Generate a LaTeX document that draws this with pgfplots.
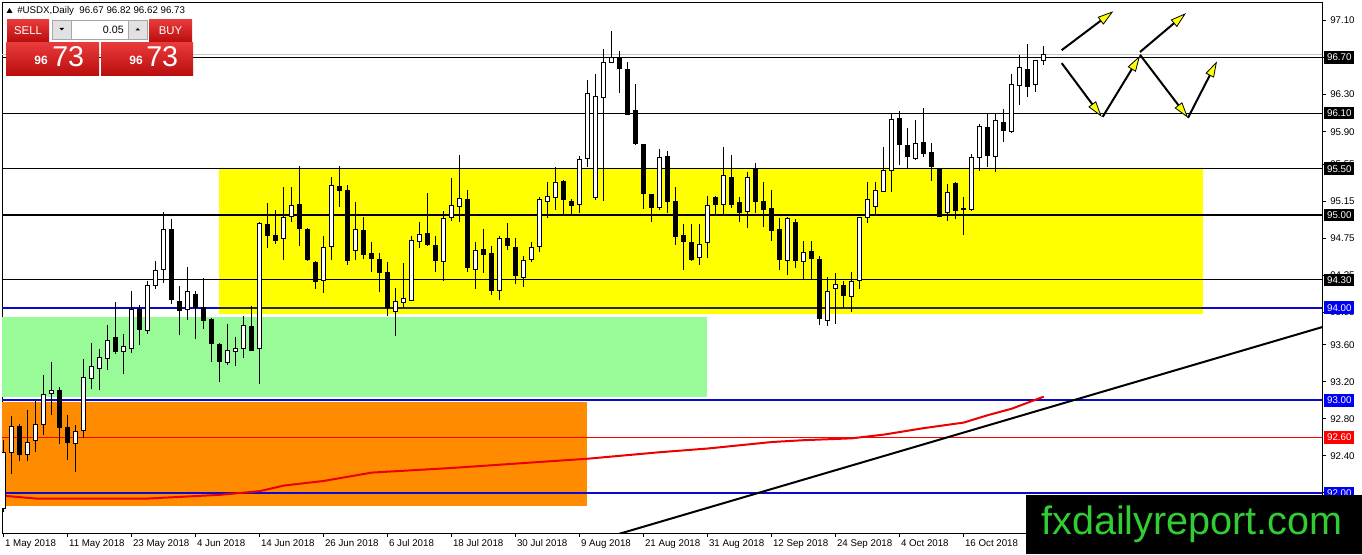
\documentclass[border=0pt]{standalone}
\usepackage{fontspec}
\setmainfont{Liberation Sans}
\usepackage{pgfplots}
\pgfplotsset{compat=1.18}
\usepackage{pgfplotstable}
\usetikzlibrary{arrows.meta}

\definecolor{lvlblue}{RGB}{10,10,205}
\definecolor{boxblue}{RGB}{0,0,245}
\definecolor{zoneyellow}{RGB}{255,255,0}
\definecolor{zonegreen}{RGB}{152,251,152}
\definecolor{zoneorange}{RGB}{255,140,0}
\definecolor{marred}{RGB}{235,0,0}
\definecolor{lvlred}{RGB}{255,0,0}
\definecolor{btntop}{RGB}{232,58,58}
\definecolor{btnbot}{RGB}{185,12,12}
\definecolor{wmgreen}{RGB}{50,205,50}
\definecolor{ctlgray}{RGB}{225,225,225}

\newcommand\lab{\fontsize{7.3}{8}\selectfont}

\pgfplotstableread{
i O H L C
0 91.83 92.57 91.80 92.44
1 92.44 92.83 92.21 92.72
2 92.72 92.75 92.34 92.42
3 92.42 92.90 92.34 92.55
4 92.57 92.99 92.44 92.74
5 92.74 93.27 92.63 93.06
6 93.07 93.41 92.84 93.11
7 93.11 93.15 92.53 92.71
8 92.71 92.84 92.36 92.55
9 92.53 92.74 92.23 92.66
10 92.67 93.45 92.59 93.25
11 93.24 93.62 93.12 93.36
12 93.35 93.55 93.11 93.46
13 93.45 93.81 93.33 93.65
14 93.68 94.06 93.50 93.53
15 93.53 93.72 93.28 93.58
16 93.56 94.18 93.51 93.98
17 93.98 94.03 93.60 93.77
18 93.75 94.29 93.72 94.24
19 94.24 94.50 94.20 94.40
20 94.41 95.03 94.27 94.84
21 94.85 94.96 94.04 94.09
22 94.07 94.24 93.71 93.97
23 93.98 94.44 93.87 94.17
24 94.14 94.18 93.66 94.00
25 94.00 94.32 93.77 93.86
26 93.87 93.89 93.41 93.61
27 93.60 93.62 93.20 93.42
28 93.41 93.82 93.38 93.54
29 93.53 93.68 93.37 93.56
30 93.56 93.91 93.46 93.81
31 93.80 94.02 93.53 93.54
32 93.56 94.93 93.18 94.91
33 94.90 95.13 94.64 94.78
34 94.78 95.05 94.69 94.73
35 94.75 95.30 94.52 94.98
36 94.98 95.30 94.92 95.10
37 95.12 95.53 94.67 94.86
38 94.85 94.86 94.50 94.52
39 94.49 94.50 94.20 94.28
40 94.29 94.77 94.16 94.65
41 94.66 95.41 94.52 95.32
42 95.31 95.53 95.09 95.26
43 95.27 95.32 94.46 94.51
44 94.62 95.14 94.52 94.84
45 94.83 94.98 94.53 94.57
46 94.59 94.71 94.38 94.53
47 94.52 94.59 94.17 94.38
48 94.38 94.49 93.91 94.00
49 93.96 94.21 93.70 94.07
50 94.06 94.48 94.00 94.10
51 94.08 94.77 94.07 94.72
52 94.71 94.93 94.64 94.79
53 94.80 95.24 94.67 94.68
54 94.67 94.77 94.39 94.51
55 94.50 95.05 94.29 94.96
56 94.97 95.40 94.94 95.10
57 95.09 95.65 94.93 95.18
58 95.17 95.27 94.39 94.44
59 94.41 94.71 94.20 94.62
60 94.63 94.85 94.38 94.57
61 94.58 94.67 94.14 94.19
62 94.19 94.78 94.08 94.75
63 94.75 94.91 94.62 94.67
64 94.65 94.75 94.26 94.35
65 94.33 94.56 94.22 94.51
66 94.52 94.71 94.49 94.65
67 94.66 95.20 94.60 95.17
68 95.15 95.36 94.97 95.20
69 95.19 95.52 95.05 95.35
70 95.36 95.38 95.01 95.17
71 95.15 95.17 95.01 95.10
72 95.11 95.64 95.02 95.60
73 95.61 96.46 95.52 96.31
74 95.19 96.52 95.16 96.28
75 96.27 96.79 95.15 96.65
76 96.65 96.99 96.64 96.70
77 96.69 96.77 96.32 96.58
78 96.57 96.65 96.09 96.09
79 96.13 96.41 95.76 95.77
80 95.76 95.77 95.06 95.23
81 95.22 95.22 94.93 95.08
82 95.08 95.71 95.06 95.62
83 95.63 95.69 95.02 95.15
84 95.15 95.30 94.68 94.77
85 94.78 94.90 94.41 94.71
86 94.71 94.90 94.51 94.52
87 94.54 94.90 94.46 94.68
88 94.70 95.21 94.54 95.10
89 95.19 95.21 95.01 95.12
90 95.12 95.74 95.01 95.43
91 95.41 95.65 95.08 95.12
92 95.14 95.20 94.93 95.03
93 95.04 95.46 94.86 95.41
94 95.49 95.56 95.02 95.15
95 95.15 95.36 94.87 95.06
96 95.07 95.27 94.72 94.83
97 94.84 94.97 94.41 94.52
98 94.51 94.98 94.35 94.96
99 94.92 94.96 94.43 94.51
100 94.50 94.72 94.31 94.60
101 94.61 94.72 94.31 94.53
102 94.52 94.56 93.81 93.88
103 93.86 94.33 93.80 94.18
104 94.21 94.37 93.82 94.25
105 94.24 94.29 94.00 94.13
106 94.12 94.39 93.95 94.28
107 94.29 94.98 94.20 94.97
108 94.98 95.36 94.92 95.17
109 95.09 95.36 95.01 95.27
110 95.26 95.74 95.25 95.48
111 95.48 96.10 95.25 96.03
112 96.04 96.12 95.54 95.76
113 95.75 95.94 95.51 95.63
114 95.61 96.03 95.59 95.77
115 95.78 96.16 95.63 95.67
116 95.68 95.78 95.37 95.52
117 95.50 95.51 94.98 94.99
118 95.03 95.34 94.94 95.24
119 95.34 95.36 94.96 95.05
120 95.06 95.20 94.79 95.07
121 95.06 95.66 95.05 95.62
122 95.62 95.98 95.48 95.96
123 95.95 96.09 95.52 95.64
124 95.63 96.09 95.46 96.02
125 96.00 96.15 95.79 95.91
126 95.90 96.52 95.89 96.41
127 96.40 96.73 96.19 96.59
128 96.57 96.85 96.27 96.39
129 96.41 96.67 96.33 96.67
130 96.67 96.82 96.62 96.73
}\candles

\pgfplotstableread{
i v
0 91.97
4 91.94
18 91.94
27 91.98
32 92.02
35 92.08
40 92.13
46 92.22
56 92.27
73 92.37
82 92.44
88 92.48
96 92.55
100 92.57
106 92.59
110 92.63
115 92.70
120 92.76
123 92.84
126 92.91
130 93.04
}\mav

\tikzset{yarrow/.style={black, line width=1.5pt, -{Triangle[length=12pt,width=7pt,fill=zoneyellow,line width=0.6pt]}}}
\tikzset{lbox/.style={anchor=west, xshift=1.5pt, minimum width=22.5pt, minimum height=9.4pt, inner sep=0pt, text=white, font=\lab}}

\begin{document}
\begin{tikzpicture}[x=0.75pt,y=0.75pt]
\path[use as bounding box] (0,0) rectangle (1362,554);
\fill[white] (0,0) rectangle (1362,554);
\begin{axis}[
  at={(1.5pt,15.75pt)}, anchor=south west, scale only axis,
  width=990pt, height=397.5pt,
  xmin=-0.225, xmax=164.78, ymin=91.568, ymax=97.289,
  clip mode=individual,
  axis line style={line width=0.75pt, black},
  tick align=outside, major tick length=3pt,
  tick style={black, line width=0.75pt},
  xtick pos=left, ytick pos=right, yticklabel pos=right,
  xtick={0,8,...,120},
  xticklabels={1 May 2018,11 May 2018,23 May 2018,4 Jun 2018,14 Jun 2018,26 Jun 2018,6 Jul 2018,18 Jul 2018,30 Jul 2018,9 Aug 2018,21 Aug 2018,31 Aug 2018,12 Sep 2018,24 Sep 2018,4 Oct 2018,16 Oct 2018},
  xticklabel style={anchor=north west, inner sep=0pt, font=\lab, xshift=0.75pt, yshift=-1.5pt},
  ytick={97.10,96.70,96.30,95.90,95.55,95.15,94.75,94.35,93.95,93.60,93.20,92.80,92.40,92.00},
  yticklabel={\pgfmathprintnumber[fixed,fixed zerofill,precision=2]{\tick}},
  yticklabel style={anchor=west, inner sep=0pt, font=\lab, xshift=3pt},
  /pgf/number format/assume math mode=true,
]
% zones
\addplot[draw=none, fill=zoneorange] coordinates {(-1,91.86) (72.9,91.86) (72.9,92.98) (-1,92.98)} --cycle;
\addplot[draw=none, fill=zonegreen] coordinates {(-1,93.04) (87.86,93.04) (87.86,93.90) (-1,93.90)} --cycle;
\addplot[draw=none, fill=zoneyellow] coordinates {(26.9,93.93) (149.86,93.93) (149.86,95.50) (26.9,95.50)} --cycle;
% level lines
\addplot[gray!45, line width=0.75pt] coordinates {(-2,96.73) (170,96.73)};
\addplot[black, line width=0.75pt] coordinates {(-2,96.70) (170,96.70)};
\addplot[black, line width=0.75pt] coordinates {(-2,96.10) (170,96.10)};
\addplot[black, line width=0.75pt] coordinates {(-2,95.50) (170,95.50)};
\addplot[black, line width=1.5pt] coordinates {(-2,95.00) (170,95.00)};
\addplot[black, line width=0.75pt] coordinates {(-2,94.30) (170,94.30)};
\addplot[lvlblue, line width=1.5pt] coordinates {(-2,94.00) (170,94.00)};
\addplot[black!85, line width=1.5pt] coordinates {(26.9,94.00) (149.86,94.00)};
\addplot[lvlblue, line width=1.5pt] coordinates {(-2,93.00) (170,93.00)};
\addplot[draw=lvlred, line width=1pt] coordinates {(-2,92.60) (170,92.60)};
\addplot[lvlblue, line width=1.5pt] coordinates {(-2,92.00) (170,92.00)};
% trend line and moving average
\addplot[black, line width=1.5pt] coordinates {(70,91.383) (166,93.821)};
\addplot[marred, line width=1.5pt] table[x=i, y=v] {\mav};
% candles: wicks
\addplot[draw=none, mark=none, error bars/.cd, y dir=both, y explicit, error mark=none,
  error bar style={draw=black, line width=0.75pt}]
  table[x=i, y expr={(\thisrow{H}+\thisrow{L})/2}, y error expr={(\thisrow{H}-\thisrow{L})/2}] {\candles};
% bodies
\addplot[draw=none, mark=none, error bars/.cd, y dir=both, y explicit, error mark=none,
  error bar style={draw=black, line width=3.75pt}]
  table[x=i, y expr={(\thisrow{O}+\thisrow{C})/2}, y error expr={abs(\thisrow{C}-\thisrow{O})/2+0.0054}] {\candles};
\addplot[draw=none, mark=none, error bars/.cd, y dir=both, y explicit, error mark=none,
  error bar style={draw=white, line width=2.25pt}]
  table[x=i, y expr={(\thisrow{O}+\thisrow{C})/2}, y error expr={(\thisrow{C}>\thisrow{O})*max(abs(\thisrow{C}-\thisrow{O})/2-0.0054,0)}] {\candles};
% arrows
\addplot[yarrow] coordinates {(132.24,96.78) (138.69,97.20)};
\addplot[yarrow] coordinates {(132.24,96.64) (137.24,96.06)};
\addplot[yarrow] coordinates {(137.36,96.06) (142.03,96.72)};
\addplot[yarrow] coordinates {(142.03,96.76) (147.78,97.18)};
\addplot[yarrow] coordinates {(142.03,96.73) (148.03,96.05)};
\addplot[yarrow] coordinates {(148.03,96.05) (151.65,96.66)};
% label anchors
\coordinate (b9670) at (axis cs:164.78,96.70);
\coordinate (b9610) at (axis cs:164.78,96.10);
\coordinate (b9550) at (axis cs:164.78,95.50);
\coordinate (b9500) at (axis cs:164.78,95.00);
\coordinate (b9430) at (axis cs:164.78,94.30);
\coordinate (b9400) at (axis cs:164.78,94.00);
\coordinate (b9300) at (axis cs:164.78,93.00);
\coordinate (b9260) at (axis cs:164.78,92.60);
\coordinate (b9200) at (axis cs:164.78,92.00);
\end{axis}
% price boxes on the right scale
\node[lbox, fill=black] at (b9670) {96.70};
\node[lbox, fill=black] at (b9610) {96.10};
\node[lbox, fill=black] at (b9550) {95.50};
\node[lbox, fill=black] at (b9500) {95.00};
\node[lbox, fill=black] at (b9430) {94.30};
\node[lbox, fill=boxblue] at (b9400) {94.00};
\node[lbox, fill=boxblue] at (b9300) {93.00};
\node[lbox, fill=lvlred] at (b9260) {92.60};
\node[lbox, fill=boxblue] at (b9200) {92.00};
% header
\fill[black] (6.5,541) -- (12.5,541) -- (9.5,546) -- cycle;
\node[anchor=base west, inner sep=0pt, font=\lab] at (17,540) {\#USDX,Daily\ \ 96.67 96.82 96.62 96.73};
% one-click panel
\shade[top color=btntop, bottom color=btnbot] (7,512) rectangle (49,534);
\shade[top color=btntop, bottom color=btnbot] (149,512) rectangle (192,534);
\node[text=white, font=\fontsize{8.5}{9}\selectfont] at (28,523) {SELL};
\node[text=white, font=\fontsize{8.5}{9}\selectfont] at (170.5,523) {BUY};
\fill[ctlgray, draw=gray!70] (52,515) rectangle (71,534);
\fill[white, draw=gray!70] (71,515) rectangle (128,534);
\fill[ctlgray, draw=gray!70] (128,515) rectangle (147,534);
\fill[black] (59.5,526) -- (64,526) -- (61.75,523.5) -- cycle;
\fill[black] (135.5,523.5) -- (140,523.5) -- (137.75,526) -- cycle;
\node[anchor=east, inner sep=0pt, font=\fontsize{8}{9}\selectfont] at (124,524.5) {0.05};
\shade[top color=btntop, bottom color=btnbot] (6,478) rectangle (99,511);
\shade[top color=btntop, bottom color=btnbot] (101,478) rectangle (193,511);
\node[anchor=base east, inner sep=0pt, text=white, font=\fontsize{9}{10}\selectfont\bfseries] at (48,489) {96};
\node[anchor=base west, inner sep=0pt, text=white, font=\fontsize{21.5}{22}\selectfont] at (52,487) {73};
\node[anchor=base east, inner sep=0pt, text=white, font=\fontsize{9}{10}\selectfont\bfseries] at (143,489) {96};
\node[anchor=base west, inner sep=0pt, text=white, font=\fontsize{21.5}{22}\selectfont] at (146,487) {73};
% watermark
\fill[black] (1026,0) rectangle (1362,59);
\node[anchor=base west, inner sep=0pt, text=wmgreen, font=\fontsize{29.7}{30}\selectfont] at (1041,19.5) {fxdailyreport.com};
\end{tikzpicture}
\end{document}
